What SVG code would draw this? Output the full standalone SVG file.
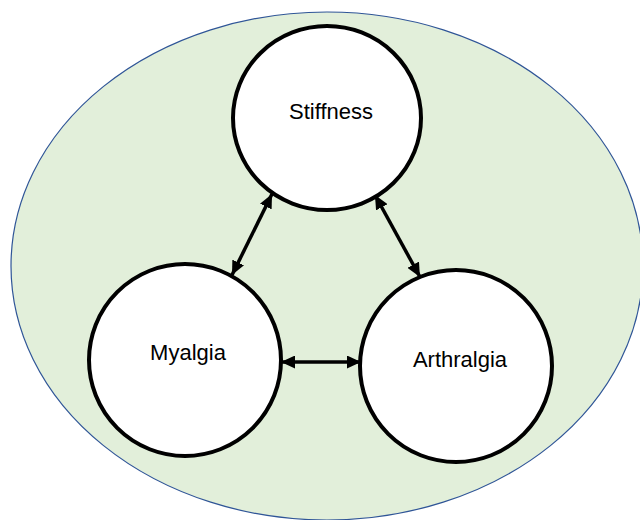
<svg xmlns="http://www.w3.org/2000/svg" width="640" height="520" viewBox="0 0 640 520">
<style>
.node{fill:#ffffff;stroke:#000000;stroke-width:4}
.lbl{font-family:"Liberation Sans",Arial,sans-serif;font-size:22px;fill:#000000;text-anchor:middle}
.conn{stroke:#000000;stroke-width:3.5;fill:none;marker-start:url(#ah);marker-end:url(#ah)}
</style>
<defs>
<marker id="ah" markerUnits="userSpaceOnUse" markerWidth="14" markerHeight="13" refX="14" refY="6.5" orient="auto-start-reverse" viewBox="0 0 14 13">
<path d="M0,0 L14,6.5 L0,13 z" fill="#000000"/>
</marker>
</defs>
<rect width="640" height="520" fill="#ffffff"/>
<g id="background">
<ellipse cx="327" cy="266" rx="316" ry="254" fill="#E2EFDA" stroke="#2F5597" stroke-width="1.2"/>
</g>
<g id="connectors">
<line class="conn" x1="272" y1="194" x2="232" y2="275"/>
<line class="conn" x1="375" y1="195" x2="420" y2="277"/>
<line class="conn" x1="281" y1="362" x2="361" y2="362"/>
</g>
<g id="stiffness">
<ellipse class="node" cx="327" cy="118" rx="94" ry="92"/>
<text class="lbl" x="331" y="119">Stiffness</text>
</g>
<g id="myalgia">
<ellipse class="node" cx="185" cy="360" rx="96" ry="96"/>
<text class="lbl" x="188" y="360">Myalgia</text>
</g>
<g id="arthralgia">
<ellipse class="node" cx="456" cy="366" rx="96" ry="96"/>
<text class="lbl" x="460" y="367">Arthralgia</text>
</g>
</svg>
